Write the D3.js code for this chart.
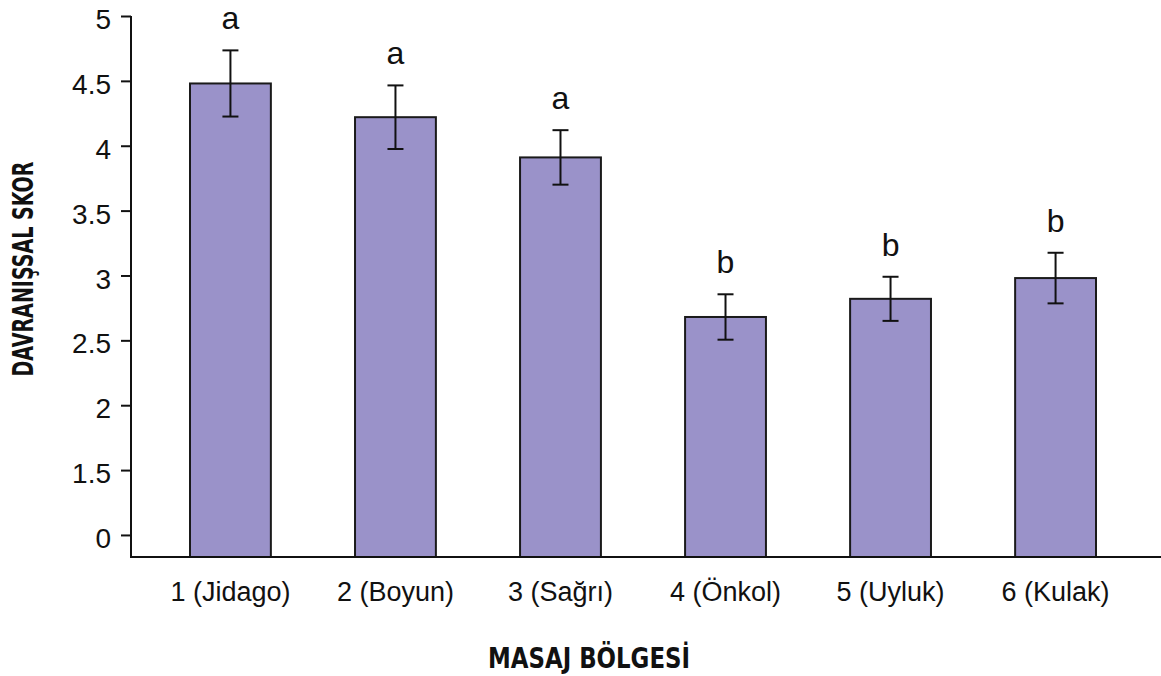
<!DOCTYPE html>
<meta charset="utf-8">
<title>Masaj bölgesi - davranışsal skor</title>
<style>
  body { margin: 0; background: #fff; }
  text { fill: #111; }
</style>
<body>
<script src="https://cdn.jsdelivr.net/npm/d3@7/dist/d3.min.js"></script>
<script>

// data
const regions = ["1 (Jidago)", "2 (Boyun)", "3 (Sağrı)", "4 (Önkol)", "5 (Uyluk)", "6 (Kulak)"];
const means = [4.48, 4.22, 3.91, 2.68, 2.82, 2.98];
const errors = [0.255, 0.245, 0.21, 0.175, 0.17, 0.195];
const groups = ["a", "a", "a", "b", "b", "b"];

// the axis is broken: the lowest tick sits where 1 would be, but reads "0"
const tickValues = [1, 1.5, 2, 2.5, 3, 3.5, 4, 4.5, 5];
const tickLabels = ["0", "1.5", "2", "2.5", "3", "3.5", "4", "4.5", "5"];

var width = 1161,
  height = 676,
  axisX = 131,
  axisY = 557;

var svg = d3.select("body").append("svg")
    .attr("width", width)
    .attr("height", height);

var x = d3.scaleBand()
    .domain(regions)
    .range([190, 1096])
    .paddingInner(0.51)
    .paddingOuter(0);

var y = d3.scaleLinear()
    .domain([0.83, 5])
    .range([axisY, 16]);

var rows = regions.map((r, i) => ({ region: r, mean: means[i], err: errors[i], group: groups[i] }));

// bars
svg.selectAll("rect.bar")
    .data(rows)
  .enter().append("rect")
    .attr("class", "bar")
    .attr("x", d => x(d.region))
    .attr("y", d => y(d.mean))
    .attr("width", x.bandwidth())
    .attr("height", d => axisY - y(d.mean))
    .style("fill", "#9a92c9")
    .style("stroke", "#1a1a1a")
    .style("stroke-width", 2);

// error bars
var eb = svg.selectAll("g.err")
    .data(rows)
  .enter().append("g")
    .attr("class", "err")
    .attr("transform", d => "translate(" + (x(d.region) + x.bandwidth() / 2) + ",0)")
    .style("stroke", "#111")
    .style("stroke-width", 2);

eb.append("line")
    .attr("y1", d => y(d.mean + d.err))
    .attr("y2", d => y(d.mean - d.err));
eb.append("line")
    .attr("x1", -8).attr("x2", 8)
    .attr("y1", d => y(d.mean + d.err))
    .attr("y2", d => y(d.mean + d.err));
eb.append("line")
    .attr("x1", -8).attr("x2", 8)
    .attr("y1", d => y(d.mean - d.err))
    .attr("y2", d => y(d.mean - d.err));

// significance letters
svg.selectAll("text.grp")
    .data(rows)
  .enter().append("text")
    .attr("class", "grp")
    .attr("x", d => x(d.region) + x.bandwidth() / 2)
    .attr("y", d => y(d.mean + d.err) - 21)
    .attr("text-anchor", "middle")
    .style("font-family", "'Liberation Sans', Arial, sans-serif")
    .style("font-size", "32px")
    .text(d => d.group);

// y axis
var yAxis = svg.append("g")
    .attr("transform", "translate(" + axisX + ",0)")
    .call(d3.axisLeft(y)
      .tickValues(tickValues)
      .tickFormat((d, i) => tickLabels[i])
      .tickSize(10)
      .tickPadding(10)
      .tickSizeOuter(0));
yAxis.select(".domain").remove();
yAxis.append("line")
    .attr("y1", y(5)).attr("y2", axisY)
    .style("stroke", "#111").style("stroke-width", 2);
yAxis.selectAll(".tick line").style("stroke", "#111").style("stroke-width", 2);
yAxis.selectAll(".tick text")
    .attr("dy", "0.45em")
    .style("font-family", "'Liberation Sans', Arial, sans-serif")
    .style("font-size", "28px")
    .style("fill", "#111");

// x axis
var xAxis = svg.append("g")
    .attr("transform", "translate(0," + axisY + ")")
    .call(d3.axisBottom(x).tickSize(0).tickPadding(25));
xAxis.select(".domain").remove();
xAxis.append("line")
    .attr("x1", axisX - 1).attr("x2", width)
    .style("stroke", "#111").style("stroke-width", 2);
xAxis.selectAll(".tick text")
    .style("font-family", "'Liberation Sans', Arial, sans-serif")
    .style("font-size", "27px")
    .style("fill", "#111");

// axis titles
svg.append("text")
    .attr("transform", "translate(33,269) rotate(-90)")
    .attr("text-anchor", "middle")
    .attr("textLength", 215)
    .attr("lengthAdjust", "spacingAndGlyphs")
    .style("font-family", "'Liberation Sans Narrow', 'DejaVu Sans Condensed', 'Liberation Sans', sans-serif")
    .style("font-weight", "bold")
    .style("font-size", "28px")
    .text("DAVRANIŞSAL SKOR");

svg.append("text")
    .attr("x", 589)
    .attr("y", 668)
    .attr("text-anchor", "middle")
    .attr("textLength", 202)
    .attr("lengthAdjust", "spacingAndGlyphs")
    .style("font-family", "'Liberation Sans Narrow', 'DejaVu Sans Condensed', 'Liberation Sans', sans-serif")
    .style("font-weight", "bold")
    .style("font-size", "28px")
    .text("MASAJ BÖLGESİ");

</script>
